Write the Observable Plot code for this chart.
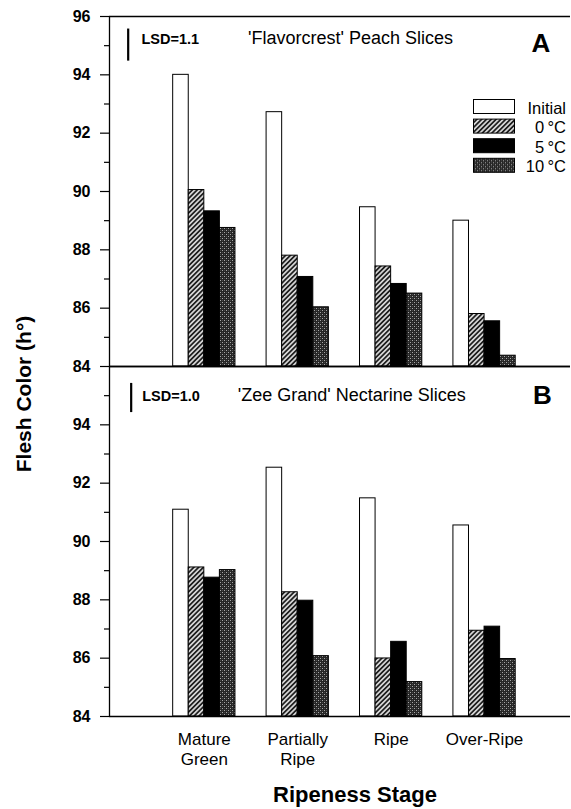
<!DOCTYPE html>
<html>
<head>
<meta charset="utf-8">
<script src="https://cdn.jsdelivr.net/npm/d3@7"></script>
<script src="https://cdn.jsdelivr.net/npm/@observablehq/plot@0.6"></script>
<style>
html, body { margin: 0; padding: 0; background: #fff; }
#wrap { position: relative; width: 571px; height: 809px; overflow: hidden; font-family: "Liberation Sans", Arial, sans-serif; }
#wrap > svg { position: absolute; }
</style>
</head>
<body>
<div id="wrap"></div>
<script>
// ---------- data ----------
const stages = ["Mature Green", "Partially Ripe", "Ripe", "Over-Ripe"];
const stageLabels = ["Mature\nGreen", "Partially\nRipe", "Ripe", "Over-Ripe"];
const series = ["Initial", "0\u2009°C", "5\u2009°C", "10\u2009°C"];

// Panel A: 'Flavorcrest' peach slices
const peachInitial = [94.0, 92.72, 89.46, 89.0];
const peach0C      = [90.05, 87.8, 87.43, 85.8];
const peach5C      = [89.32, 87.07, 86.83, 85.55];
const peach10C     = [88.75, 86.03, 86.5, 84.37];

// Panel B: 'Zee Grand' nectarine slices
const nectInitial = [91.09, 92.53, 91.48, 90.55];
const nect0C      = [89.11, 88.26, 85.99, 86.94];
const nect5C      = [88.76, 87.97, 86.56, 87.08];
const nect10C     = [89.02, 86.07, 85.18, 85.97];

const lsdValues = [1.1, 1.0];
const panelTitles = ["'Flavorcrest' Peach Slices", "'Zee Grand' Nectarine Slices"];
const panelLetters = ["A", "B"];
const majorTicksA = [84, 86, 88, 90, 92, 94, 96];
const majorTicksB = [84, 86, 88, 90, 92, 94];
const minorTicks = [85, 87, 89, 91, 93, 95];
const yLabel = "Flesh Color (h°)";
const xLabel = "Ripeness Stage";

// ---------- styles ----------
const fills = ["white", "url(#hatch)", "black", "url(#dots)"];
const FONT = "'Liberation Sans', Arial, sans-serif";

const rowsFor = (arrs) => stages.flatMap((stage, i) =>
  series.map((s, j) => ({stage, series: s, i, j, value: arrs[j][i]})));
const peachRows = rowsFor([peachInitial, peach0C, peach5C, peach10C]);
const nectRows = rowsFor([nectInitial, nect0C, nect5C, nect10C]);

const wrap = d3.select("#wrap");

// pattern definitions + axis titles overlay
const overlay = wrap.append("svg")
  .attr("width", 571).attr("height", 809)
  .style("left", "0px").style("top", "0px").style("pointer-events", "none").style("z-index", 3);
const defs = overlay.append("defs");
const hatch = defs.append("pattern").attr("id", "hatch")
  .attr("patternUnits", "userSpaceOnUse").attr("width", 3.4).attr("height", 3.4)
  .attr("patternTransform", "rotate(45)");
hatch.append("rect").attr("width", 3.4).attr("height", 3.4).attr("fill", "#d4d4d4");
hatch.append("line").attr("x1", 1.7).attr("x2", 1.7).attr("y1", 0).attr("y2", 3.4)
  .attr("stroke", "#1e1e1e").attr("stroke-width", 1.7);
const dots = defs.append("pattern").attr("id", "dots")
  .attr("patternUnits", "userSpaceOnUse").attr("width", 4).attr("height", 4);
dots.append("rect").attr("width", 4).attr("height", 4).attr("fill", "#262626");
dots.append("rect").attr("x", 0).attr("y", 0).attr("width", 1).attr("height", 1).attr("fill", "#a8a8a8");
dots.append("rect").attr("x", 2).attr("y", 2).attr("width", 1).attr("height", 1).attr("fill", "#a8a8a8");
dots.append("rect").attr("x", 2).attr("y", 0).attr("width", 1).attr("height", 1).attr("fill", "#4a4a4a");
dots.append("rect").attr("x", 0).attr("y", 2).attr("width", 1).attr("height", 1).attr("fill", "#4a4a4a");

overlay.append("text")
  .attr("transform", "translate(31,394) rotate(-90)")
  .attr("text-anchor", "middle").attr("font-family", FONT)
  .attr("font-weight", "bold").attr("font-size", 21).text(yLabel);
overlay.append("text")
  .attr("x", 355).attr("y", 802)
  .attr("text-anchor", "middle").attr("font-family", FONT)
  .attr("font-weight", "bold").attr("font-size", 22).text(xLabel);

// ---------- panels ----------
const xDomain = [-0.015, 4.92];
const barW = 1 / 6;
const yBase = 84;

function makePanel(rows, cfg) {
  const marks = [
    Plot.rect(rows, {
      x1: d => d.i + 1 - 2 * barW + d.j * barW,
      x2: d => d.i + 1 - 2 * barW + (d.j + 1) * barW,
      y1: () => yBase,
      y2: "value",
      fill: "series",
      stroke: "black",
      strokeWidth: 1
    }),
    Plot.ruleY([84, 96], {strokeWidth: 1.3}),
    Plot.ruleX([xDomain[0]], {strokeWidth: 1.3}),
    Plot.axisY({ticks: cfg.majorTicks, tickSize: 9, tickPadding: 10, fontSize: 16, fontWeight: "bold", label: null, strokeWidth: 1.2}),
    Plot.axisY({ticks: minorTicks, tickSize: 5, tickFormat: () => "", label: null, strokeWidth: 1.2}),
    Plot.ruleX([cfg.lsd], {x: () => cfg.lsdX, y1: () => cfg.lsdTop, y2: d => cfg.lsdTop - d, strokeWidth: 2.2}),
    Plot.text([`LSD=${cfg.lsd.toFixed(1)}`], {text: d => d, frameAnchor: "top-left", dx: cfg.lsdDx, dy: cfg.lsdDy,
      lineAnchor: "bottom", textAnchor: "start", fontSize: 14.5, fontWeight: "bold"}),
    Plot.text([cfg.title], {text: d => d, frameAnchor: "top-left", dx: cfg.titleDx, dy: cfg.titleDy,
      lineAnchor: "bottom", textAnchor: "middle", fontSize: 18}),
    Plot.text([cfg.letter], {text: d => d, frameAnchor: "top-left", dx: cfg.letterDx, dy: cfg.letterDy,
      lineAnchor: "bottom", textAnchor: "middle", fontSize: 26, fontWeight: "bold"})
  ];
  if (cfg.showX) {
    marks.push(Plot.axisX({ticks: [1, 2, 3, 4], tickSize: 0, tickPadding: 14,
      tickFormat: d => stageLabels[d - 1], fontSize: 17, lineHeight: 1.2, label: null}));
  }
  return Plot.plot({
    width: 571,
    height: cfg.height,
    marginLeft: 109, marginRight: 1, marginTop: 16, marginBottom: cfg.marginBottom,
    style: {background: "transparent", overflow: "visible", fontFamily: FONT, color: "black"},
    x: {domain: xDomain, axis: null},
    y: {domain: [84, 96], axis: null},
    color: {type: "ordinal", domain: series, range: fills},
    marks
  });
}

const chartA = makePanel(peachRows, {
  height: 370, marginBottom: 4, majorTicks: majorTicksA, showX: false,
  lsd: lsdValues[0], lsdX: 0.185, lsdTop: 95.57,
  lsdDx: 32, lsdDy: 27.5, title: panelTitles[0], titleDx: 241, titleDy: 27.3,
  letter: panelLetters[0], letterDx: 431.5, letterDy: 35.7
});
const chartB = makePanel(nectRows, {
  height: 426, marginBottom: 60, majorTicks: majorTicksB, showX: true,
  lsd: lsdValues[1], lsdX: 0.217, lsdTop: 95.42,
  lsdDx: 32.7, lsdDy: 34, title: panelTitles[1], titleDx: 242.3, titleDy: 34.7,
  letter: panelLetters[1], letterDx: 433, letterDy: 37.3
});
d3.select(chartA).style("left", "0px").style("top", "0px").style("position", "absolute").style("z-index", 1);
d3.select(chartB).style("left", "0px").style("top", "350px").style("position", "absolute").style("z-index", 2);
wrap.node().appendChild(chartA);
wrap.node().appendChild(chartB);

// ---------- legend ----------
const legend = wrap.append("svg")
  .attr("width", 106).attr("height", 82)
  .style("left", "465px").style("top", "95px").style("z-index", 4);
const item = legend.selectAll("g").data(series).join("g")
  .attr("transform", (d, j) => `translate(0,${4.5 + j * 19.6})`);
item.append("rect").attr("x", 8.5).attr("y", 0).attr("width", 41).attr("height", 14)
  .attr("fill", (d, j) => fills[j]).attr("stroke", "black").attr("stroke-width", 1);
item.append("text").attr("x", 101).attr("y", 14)
  .attr("text-anchor", "end").attr("font-family", FONT).attr("font-size", 16.5).text(d => d);
</script>
</body>
</html>
